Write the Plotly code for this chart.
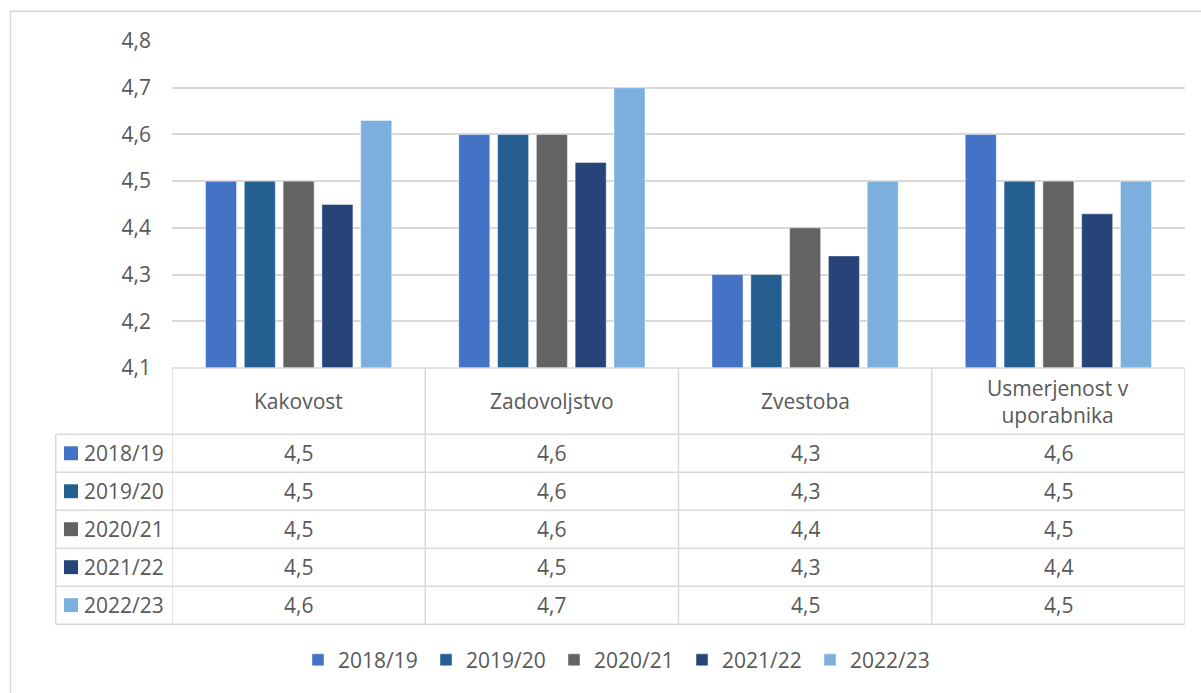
import plotly.graph_objects as go
from decimal import Decimal, ROUND_HALF_UP

# ---- data ----
categories = ["Kakovost", "Zadovoljstvo", "Zvestoba", "Usmerjenost v uporabnika"]
header_labels = ["Kakovost", "Zadovoljstvo", "Zvestoba", "Usmerjenost v<br>uporabnika"]
series_names = ["2018/19", "2019/20", "2020/21", "2021/22", "2022/23"]
v_2018_19 = [4.5, 4.6, 4.3, 4.6]
v_2019_20 = [4.5, 4.6, 4.3, 4.5]
v_2020_21 = [4.5, 4.6, 4.4, 4.5]
v_2021_22 = [4.45, 4.54, 4.34, 4.43]
v_2022_23 = [4.63, 4.70, 4.50, 4.50]
series_values = [v_2018_19, v_2019_20, v_2020_21, v_2021_22, v_2022_23]
y_ticks = [4.1, 4.2, 4.3, 4.4, 4.5, 4.6, 4.7, 4.8]

# ---- style ----
colors = ["#4472C4", "#255E91", "#636363", "#264478", "#7CAFDD"]
FONT = "Open Sans"
TXT = "#595959"
GRID = "#D9D9D9"
FS = 21

W, H = 1201, 693
ML, MR, MT = 172, 16, 41
PLOT_BOTTOM = 370
MB = H - PLOT_BOTTOM
PW = W - ML - MR
PH = PLOT_BOTTOM - MT


def px_x(px):
    return (px - ML) / PW


def px_y(py):
    return (PLOT_BOTTOM - py) / PH


def fmt(v):
    d = Decimal(str(v)).quantize(Decimal("0.1"), rounding=ROUND_HALF_UP)
    return str(d).replace(".", ",")


fig = go.Figure()
for name, vals, col in zip(series_names, series_values, colors):
    fig.add_trace(go.Bar(
        x=categories, y=vals, name=name,
        marker=dict(color=col, line=dict(color="rgba(255,255,255,0.45)", width=1)),
    ))

shapes = []
annotations = []
line = dict(color=GRID, width=1.5)

header_bottom = 436.7
row_h = 38.2
table_bottom = header_bottom + row_h * len(series_names)
left_x = 55.7

# horizontal lines
shapes.append(dict(type="line", xref="paper", yref="paper", x0=0, x1=1,
                   y0=px_y(PLOT_BOTTOM), y1=px_y(PLOT_BOTTOM), line=line))
for i in range(len(series_names) + 1):
    yy = px_y(header_bottom + i * row_h)
    shapes.append(dict(type="line", xref="paper", yref="paper", x0=px_x(left_x), x1=1,
                       y0=yy, y1=yy, line=line))
# vertical lines
shapes.append(dict(type="line", xref="paper", yref="paper", x0=px_x(left_x), x1=px_x(left_x),
                   y0=px_y(header_bottom), y1=px_y(table_bottom), line=line))
for k in range(len(categories) + 1):
    xx = k - 0.5
    shapes.append(dict(type="line", xref="x", yref="paper", x0=xx, x1=xx,
                       y0=px_y(PLOT_BOTTOM), y1=px_y(table_bottom), line=line))

# header labels
for k, lab in enumerate(header_labels):
    annotations.append(dict(x=k, xref="x", y=px_y((PLOT_BOTTOM + header_bottom) / 2), yref="paper",
                            text=lab, showarrow=False, xanchor="center", yanchor="middle",
                            font=dict(family=FONT, size=FS, color=TXT)))

# rows
for i, (name, vals, col) in enumerate(zip(series_names, series_values, colors)):
    cy = header_bottom + (i + 0.5) * row_h
    shapes.append(dict(type="rect", xref="paper", yref="paper",
                       x0=px_x(64), x1=px_x(78), y0=px_y(cy - 7), y1=px_y(cy + 7),
                       fillcolor=col, line=dict(width=0)))
    annotations.append(dict(x=px_x(82), xref="paper", y=px_y(cy), yref="paper",
                            text=name, showarrow=False, xanchor="left", yanchor="middle",
                            font=dict(family=FONT, size=FS, color=TXT)))
    for k, v in enumerate(vals):
        annotations.append(dict(x=k, xref="x", y=px_y(cy), yref="paper",
                                text=fmt(v), showarrow=False, xanchor="center", yanchor="middle",
                                font=dict(family=FONT, size=FS, color=TXT)))

# outer chart border (top & left visible)
shapes.append(dict(type="rect", xref="paper", yref="paper",
                   x0=px_x(10.5), x1=px_x(1215), y0=px_y(11), y1=px_y(710),
                   line=dict(color=GRID, width=1.5), fillcolor="rgba(0,0,0,0)", layer="below"))

fig.update_layout(
    width=W, height=H,
    margin=dict(l=ML, r=MR, t=MT, b=MB),
    paper_bgcolor="white", plot_bgcolor="white",
    separators=", ",
    barmode="group", bargap=0.234, bargroupgap=0.2,
    font=dict(family=FONT, size=FS, color=TXT),
    shapes=shapes, annotations=annotations,
    showlegend=True,
    legend=dict(orientation="h", x=px_x(298), xanchor="left",
                y=px_y(664), yanchor="middle",
                entrywidth=83, entrywidthmode="pixels",
                font=dict(family=FONT, size=FS, color=TXT), bgcolor="rgba(0,0,0,0)"),
)
fig.update_xaxes(range=[-0.5, 3.5], showticklabels=False, showgrid=False, zeroline=False,
                 showline=False, ticks="")
fig.update_yaxes(range=[4.1, 4.8], tickvals=y_ticks, tickformat=".1f",
                 showgrid=True, gridcolor=GRID, gridwidth=1.5, zeroline=False, showline=False,
                 ticks="", ticklabelstandoff=20,
                 tickfont=dict(family=FONT, size=FS, color=TXT))

fig.write_html("out.html", config={"displayModeBar": False},
               post_script="document.body.style.margin='0px';")
